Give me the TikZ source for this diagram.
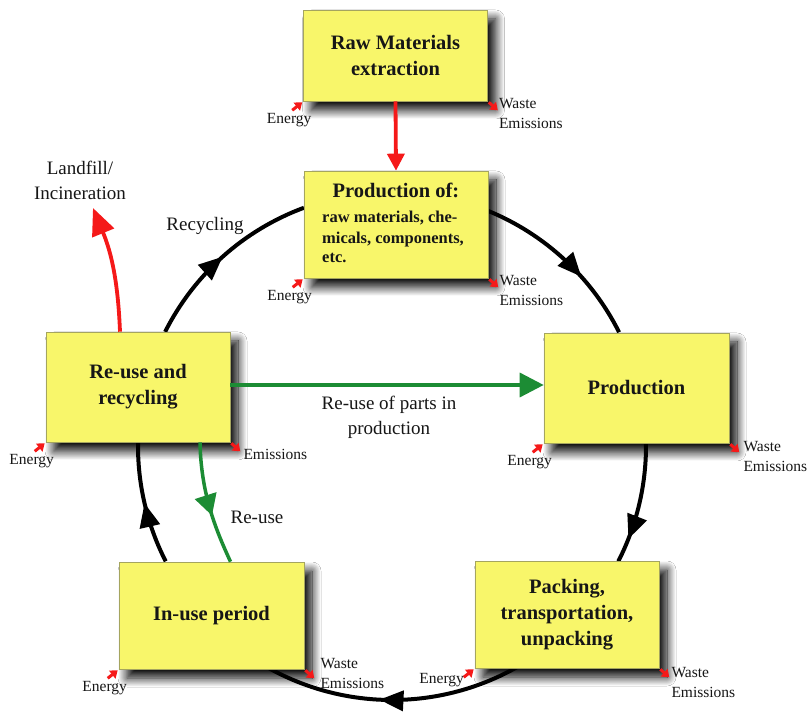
\documentclass[tikz,border=0pt]{standalone}
\usepackage{fontspec}
\setmainfont{Liberation Serif}
\usetikzlibrary{arrows.meta,decorations.markings,shadows.blur,calc}

\definecolor{boxyellow}{RGB}{248,246,106}
\definecolor{boxedge}{RGB}{165,165,95}
\definecolor{arrred}{RGB}{245,25,25}
\definecolor{arrgreen}{RGB}{28,140,52}
\definecolor{txt}{RGB}{22,22,22}

\tikzset{
  stagebox/.style={draw=boxedge, line width=0.6pt, fill=boxyellow,
    minimum width=184pt, minimum height=107pt, inner sep=0pt, align=center,
    font=\fontsize{20.5}{26}\selectfont\bfseries, text=txt,
    blur shadow={shadow xshift=8pt, shadow yshift=-9pt, shadow blur radius=9pt,
      shadow blur steps=16, shadow opacity=100}},
  titletext/.style={font=\fontsize{20.5}{26}\selectfont\bfseries, text=txt, inner sep=0pt},
  subtext/.style={font=\fontsize{16.5}{20}\selectfont\bfseries, text=txt, inner sep=0pt},
  lbl/.style={font=\fontsize{19}{25}\selectfont, text=txt, align=center, inner sep=0pt},
  smalllbl/.style={font=\fontsize{15.5}{20}\selectfont, text=txt, align=left, inner sep=0pt},
  cyc/.style={line width=4pt, black},
  cycarrow/.style={postaction={decorate}, decoration={markings,
      mark=at position #1 with {\arrow{Triangle[length=24pt,width=20pt]}}}},
  energymark/.style={draw=arrred, line width=3pt, -{Triangle[length=7pt,width=10pt]}},
  wastemark/.style={draw=arrred, line width=3pt, -{Triangle[length=7pt,width=10pt]}},
  redarrow/.style={draw=arrred, line width=3.8pt},
  greenarrow/.style={draw=arrgreen, line width=3.5pt},
}

\begin{document}
\begin{tikzpicture}[x=1pt,y=1pt]
\useasboundingbox (0,0) rectangle (808,713);
\fill[white] (0,0) rectangle (808,713);

\coordinate (C) at (392,267);

% cycle arcs (drawn under the boxes)
\draw[cyc, cycarrow=0.5] ($(C)+(153.3:254)$) arc[start angle=153.3, end angle=110.3, radius=254];
\draw[cyc, cycarrow=0.63] ($(C)+(67.7:254)$) arc[start angle=67.7, end angle=26.6, radius=254];
\draw[cyc, cycarrow=0.8] ($(C)+(0.7:254)$) arc[start angle=0.7, end angle=-27, radius=254];
\draw[cyc, cycarrow=0.55] ($(C)+(-60:254)$) arc[start angle=-60, end angle=-119.7, radius=254];
\draw[cyc, cycarrow=0.5] ($(C)+(-153:254)$) arc[start angle=-153, end angle=-181, radius=254];

% boxes
\node[stagebox, minimum height=91pt] (raw) at (395.5,657.5) {Raw Materials\\extraction};
\node[stagebox] (prodof) at (396,488.5) {};
\node[stagebox, minimum width=185pt, minimum height=110pt] (production) at (636.5,325) {Production};
\node[stagebox, minimum height=110pt] (reuse) at (138,326) {Re-use and\\recycling};
\node[stagebox, minimum width=185pt] (inuse) at (211.5,97.5) {In-use period};
\node[stagebox] (packing) at (567,98.5) {Packing,\\transportation,\\unpacking};

% text of the "Production of" box
\node[titletext, anchor=base] (pt0) at (396,515) {Production of:};
\node[subtext, anchor=base west] (pt1) at (322,490) {raw materials, che-};
\node[subtext, anchor=base west] (pt2) at (322,469) {micals, components,};
\node[subtext, anchor=base west] (pt3) at (322,450) {etc.};

% red arrows
\draw[redarrow, -{Triangle[length=17pt,width=17pt]}] (raw.south) -- (prodof.north);
\node[lbl] (landfill) at (80,533) {Landfill/\\Incineration};
\coordinate (lfend) at (93,505);
\draw[redarrow, -{Triangle[length=27pt,width=23pt]}] ($(reuse.north)+(-18,0)$) to[bend right=10] (lfend);

% green arrows
\draw[greenarrow, -{Triangle[length=24pt,width=24pt]}] ($(reuse.east)+(0,2)$) -- ($(reuse.east -| production.west)+(0,2)$);
\node[lbl] (partslbl) at (389,296) {Re-use of parts in\\production};
\draw[greenarrow, postaction={decorate}, decoration={markings,
      mark=at position 0.6 with {\arrow{Triangle[length=21pt,width=22pt]}}}]
  ($(reuse.south)+(62,0)$) .. controls (201,220) and (215,185) .. ($(inuse.north)+(19,0)$);

% cycle labels
\node[lbl] (recyc) at (205,487) {Recycling};
\node[lbl] (reuselbl) at (257,196) {Re-use};

% energy / waste markers and labels
\foreach \b in {raw,prodof,production,reuse,inuse} {
  \draw[energymark] ($(\b.south west)+(-11,-9)$) -- ($(\b.south west)+(-1,-1)$);
  \node[smalllbl] at ($(\b.south west)+(-14,-19)$) {Energy};
}
\draw[energymark] ($(packing.south west)+(-11,-9)$) -- ($(packing.south west)+(-1,-1)$);
\node[smalllbl] (enpack) at ($(packing.south west)+(-33,-12)$) {Energy};

\foreach \b in {raw,prodof,production,inuse,packing,reuse} {
  \draw[wastemark] ($(\b.south east)+(1,-1)$) -- ($(\b.south east)+(10,-9)$);
}
\node[smalllbl, anchor=west] (w1) at ($(raw.south east)+(11,-12)$) {Waste\\Emissions};
\node[smalllbl, anchor=west] (w2) at ($(prodof.south east)+(11,-12)$) {Waste\\Emissions};
\node[smalllbl, anchor=west] (w3) at ($(production.south east)+(14,-13)$) {Waste\\Emissions};
\node[smalllbl, anchor=west] (w4) at ($(reuse.south east)+(13,-12)$) {Emissions};
\node[smalllbl, anchor=west] (w5) at ($(inuse.south east)+(16,-4)$) {Waste\\Emissions};
\node[smalllbl, anchor=west] (w6) at ($(packing.south east)+(12,-14)$) {Waste\\Emissions};
\end{tikzpicture}
\end{document}
